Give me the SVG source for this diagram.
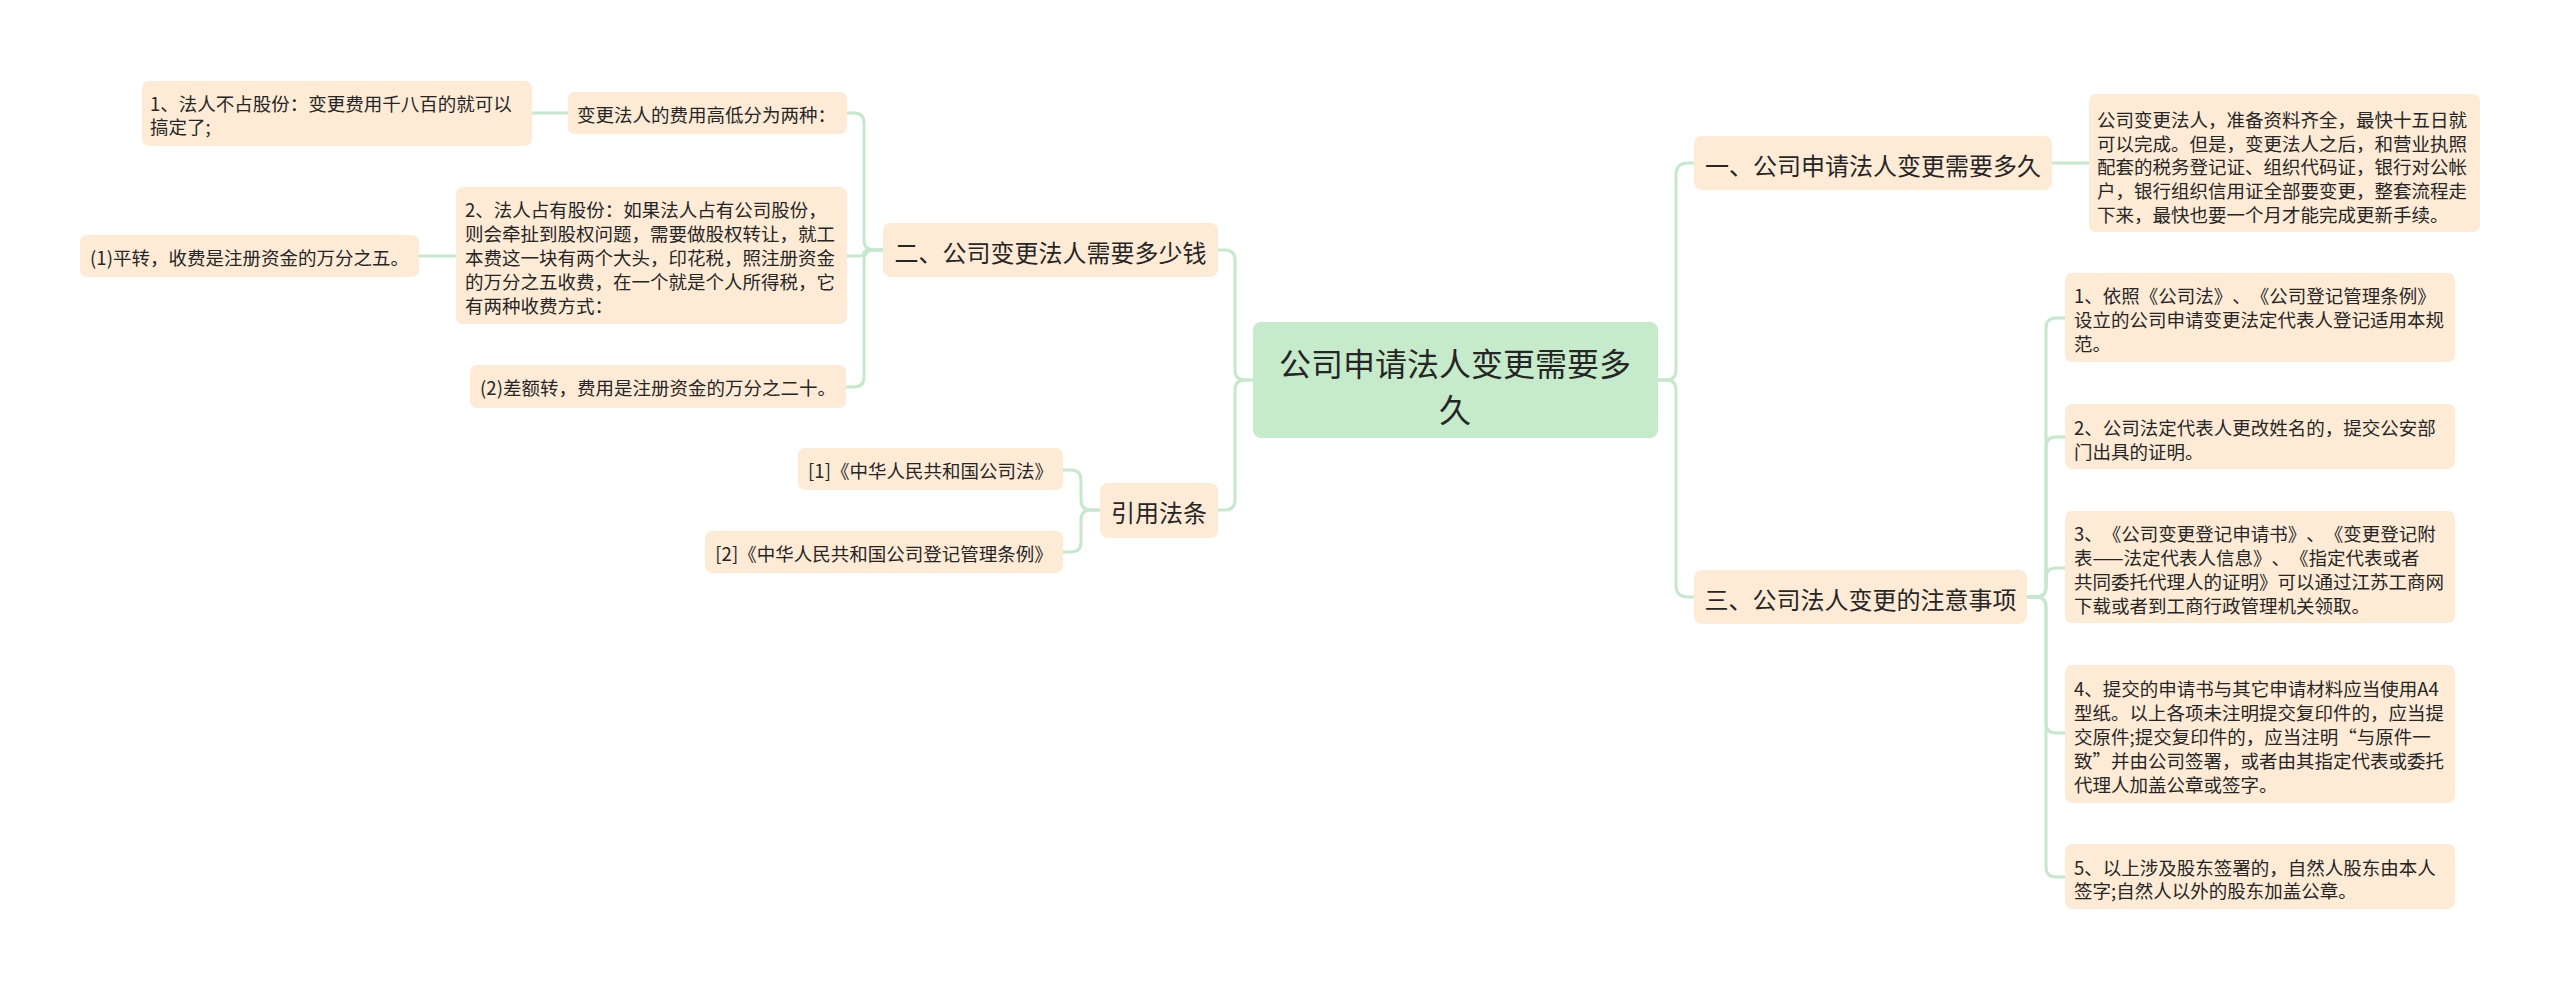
<svg xmlns="http://www.w3.org/2000/svg" width="2560" height="990" viewBox="0 0 2560 990">
<style>
.bg{fill:#ffffff}
.leaf{fill:#fdebd6}
.rootbox{fill:#c6ebca}
.edge{fill:none;stroke:#c6e8cc;stroke-width:3;stroke-linecap:round}
text{font-family:"Noto Sans CJK SC","Noto Sans",sans-serif;fill:#262626;dominant-baseline:central;text-spacing-trim:space-all;font-kerning:none}
.t{font-size:18.5px}
.b{font-size:24px;text-anchor:middle}
.r{font-size:32px;text-anchor:middle}
.c{text-anchor:middle}
</style>
<rect class="bg" x="0" y="0" width="2560" height="990"/>
<g id="connectors">
<path class="edge" d="M1218 250 H1225 Q1235 250 1235 260 V370 Q1235 380 1245 380 H1253"/>
<path class="edge" d="M1218 510 H1225 Q1235 510 1235 500 V390 Q1235 380 1245 380 H1253"/>
<path class="edge" d="M847 113 H854 Q864 113 864 123 V240 Q864 250 874 250 H883"/>
<path class="edge" d="M847 256 H858 Q864 256 864 253 Q864 250 870 250 H883"/>
<path class="edge" d="M846 387 H854 Q864 387 864 377 V260 Q864 250 874 250 H883"/>
<path class="edge" d="M532 113 H568"/>
<path class="edge" d="M419 256 H456"/>
<path class="edge" d="M1063 470 H1071 Q1081 470 1081 480 V500 Q1081 510 1091 510 H1100"/>
<path class="edge" d="M1063 552 H1071 Q1081 552 1081 542 V520 Q1081 510 1091 510 H1100"/>
<path class="edge" d="M1658 380 H1666 Q1676 380 1676 370 V175 Q1676 163 1688 163 H1694"/>
<path class="edge" d="M1658 380 H1666 Q1676 380 1676 390 V585 Q1676 597 1688 597 H1694"/>
<path class="edge" d="M2052 163 H2089"/>
<path class="edge" d="M2027 597 H2036 Q2046 597 2046 587 V328 Q2046 318 2056 318 H2065"/>
<path class="edge" d="M2027 597 H2036 Q2046 597 2046 587 V447 Q2046 437 2056 437 H2065"/>
<path class="edge" d="M2027 597 H2036 Q2046 597 2046 587 V578 Q2046 568 2056 568 H2065"/>
<path class="edge" d="M2027 597 H2036 Q2046 597 2046 607 V723 Q2046 733 2056 733 H2065"/>
<path class="edge" d="M2027 597 H2036 Q2046 597 2046 607 V867 Q2046 877 2056 877 H2065"/>
</g>
<g id="root">
<rect class="rootbox" x="1253" y="322" width="405" height="116" rx="8"/>
<text class="r" x="1455" y="362">公司申请法人变更需要多</text>
<text class="r" x="1455" y="408">久</text>
</g>
<g id="branch-cost">
<rect class="leaf" x="883" y="223" width="335" height="54" rx="8"/>
<text class="b" x="1050.5" y="251">二、公司变更法人需要多少钱</text>
</g>
<g id="cost-two-kinds">
<rect class="leaf" x="568" y="92" width="279" height="42" rx="7"/>
<text class="t" x="577" y="114">变更法人的费用高低分为两种：</text>
</g>
<g id="cost-no-share">
<rect class="leaf" x="142" y="81" width="390" height="65" rx="7"/>
<text class="t" x="150" y="103">1、法人不占股份：变更费用千八百的就可以</text>
<text class="t" x="150" y="126">搞定了;</text>
</g>
<g id="cost-has-share">
<rect class="leaf" x="456" y="187" width="391" height="137" rx="7"/>
<text class="t" x="465" y="209">2、法人占有股份：如果法人占有公司股份，</text>
<text class="t" x="465" y="233">则会牵扯到股权问题，需要做股权转让，就工</text>
<text class="t" x="465" y="257">本费这一块有两个大头，印花税，照注册资金</text>
<text class="t" x="465" y="281">的万分之五收费，在一个就是个人所得税，它</text>
<text class="t" x="465" y="305">有两种收费方式：</text>
</g>
<g id="cost-flat">
<rect class="leaf" x="80" y="235" width="339" height="42" rx="7"/>
<text class="t c" x="249.5" y="257">(1)平转，收费是注册资金的万分之五。</text>
</g>
<g id="cost-diff">
<rect class="leaf" x="470" y="365" width="376" height="43" rx="7"/>
<text class="t c" x="658" y="387">(2)差额转，费用是注册资金的万分之二十。</text>
</g>
<g id="branch-law">
<rect class="leaf" x="1100" y="483" width="118" height="55" rx="8"/>
<text class="b" x="1159" y="511">引用法条</text>
</g>
<g id="law-1">
<rect class="leaf" x="798" y="448" width="265" height="42" rx="7"/>
<text class="t c" x="930.5" y="470">[1]《中华人民共和国公司法》</text>
</g>
<g id="law-2">
<rect class="leaf" x="705" y="531" width="358" height="42" rx="7"/>
<text class="t c" x="884" y="553">[2]《中华人民共和国公司登记管理条例》</text>
</g>
<g id="branch-time">
<rect class="leaf" x="1694" y="136" width="358" height="54" rx="8"/>
<text class="b" x="1873" y="164">一、公司申请法人变更需要多久</text>
</g>
<g id="time-detail">
<rect class="leaf" x="2089" y="94" width="391" height="138" rx="7"/>
<text class="t" x="2097" y="119">公司变更法人，准备资料齐全，最快十五日就</text>
<text class="t" x="2097" y="143">可以完成。但是，变更法人之后，和营业执照</text>
<text class="t" x="2097" y="166">配套的税务登记证、组织代码证，银行对公帐</text>
<text class="t" x="2097" y="190">户，银行组织信用证全部要变更，整套流程走</text>
<text class="t" x="2097" y="214">下来，最快也要一个月才能完成更新手续。</text>
</g>
<g id="branch-notes">
<rect class="leaf" x="1694" y="570" width="333" height="54" rx="8"/>
<text class="b" x="1860.5" y="598">三、公司法人变更的注意事项</text>
</g>
<g id="note-1">
<rect class="leaf" x="2065" y="273" width="390" height="89" rx="7"/>
<text class="t" x="2074" y="295">1、依照《公司法》、《公司登记管理条例》</text>
<text class="t" x="2074" y="319">设立的公司申请变更法定代表人登记适用本规</text>
<text class="t" x="2074" y="343">范。</text>
</g>
<g id="note-2">
<rect class="leaf" x="2065" y="404" width="390" height="65" rx="7"/>
<text class="t" x="2074" y="427">2、公司法定代表人更改姓名的，提交公安部</text>
<text class="t" x="2074" y="451">门出具的证明。</text>
</g>
<g id="note-3">
<rect class="leaf" x="2065" y="511" width="390" height="112" rx="7"/>
<text class="t" x="2074" y="533">3、《公司变更登记申请书》、《变更登记附</text>
<text class="t" x="2074" y="557">表——法定代表人信息》、《指定代表或者</text>
<text class="t" x="2074" y="581">共同委托代理人的证明》可以通过江苏工商网</text>
<text class="t" x="2074" y="605">下载或者到工商行政管理机关领取。</text>
</g>
<g id="note-4">
<rect class="leaf" x="2065" y="665" width="390" height="138" rx="7"/>
<text class="t" x="2074" y="688">4、提交的申请书与其它申请材料应当使用A4</text>
<text class="t" x="2074" y="712">型纸。以上各项未注明提交复印件的，应当提</text>
<text class="t" x="2074" y="736">交原件;提交复印件的，应当注明“与原件一</text>
<text class="t" x="2074" y="760">致”并由公司签署，或者由其指定代表或委托</text>
<text class="t" x="2074" y="784">代理人加盖公章或签字。</text>
</g>
<g id="note-5">
<rect class="leaf" x="2065" y="844" width="390" height="65" rx="7"/>
<text class="t" x="2074" y="867">5、以上涉及股东签署的，自然人股东由本人</text>
<text class="t" x="2074" y="890">签字;自然人以外的股东加盖公章。</text>
</g>
</svg>
